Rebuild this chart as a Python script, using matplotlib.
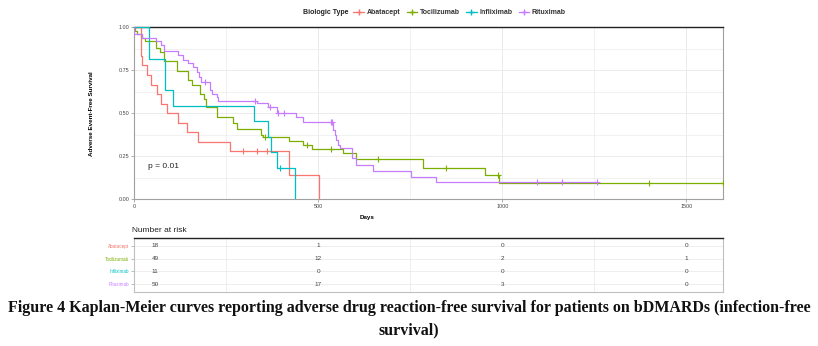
import numpy as np
import matplotlib
matplotlib.use("Agg")
import matplotlib.pyplot as plt
from matplotlib.lines import Line2D

# ---------------- data ----------------
groups = ["Abatacept", "Tocilizumab", "Infliximab", "Rituximab"]
colors = ["#F8766D", "#7CAE00", "#00BFC4", "#C77CFF"]

abat_t = [0, 19, 22, 35, 46, 62, 73, 90, 120, 143, 173, 260, 421, 502]
abat_s = [1.0, 0.833, 0.778, 0.722, 0.667, 0.611, 0.556, 0.5, 0.444, 0.389, 0.333, 0.278, 0.139, 0.0]
abat_cens = [297, 335, 362]
abat_end = 502

toci_t = [0, 3, 8, 21, 30, 61, 70, 81, 117, 147, 157, 179, 190, 195, 224, 270, 279, 345, 351,
          422, 460, 482, 568, 602, 785, 954, 991]
toci_s = [1.0, 0.98, 0.959, 0.939, 0.918, 0.878, 0.857, 0.806, 0.745, 0.694, 0.663, 0.612, 0.582,
          0.535, 0.477, 0.442, 0.407, 0.374, 0.36, 0.339, 0.316, 0.29, 0.271, 0.236, 0.18, 0.141, 0.093]
toci_cens = [356, 470, 535, 663, 848, 989, 1398, 1600]
toci_end = 1600

infl_t = [0, 42, 84, 105, 326, 365, 372, 388, 437]
infl_s = [1.0, 0.818, 0.636, 0.545, 0.455, 0.364, 0.273, 0.182, 0.0]
infl_cens = [396]
infl_end = 437

ritu_t = [0, 1, 21, 61, 73, 81, 120, 134, 147, 161, 170, 176, 182, 206, 213, 224, 229, 333,
          365, 387, 441, 460, 541, 545, 549, 554, 559, 591, 604, 650, 752, 821]
ritu_s = [1.0, 0.96, 0.94, 0.92, 0.90, 0.86, 0.84, 0.81, 0.79, 0.771, 0.742, 0.713, 0.684, 0.635,
          0.612, 0.593, 0.574, 0.562, 0.535, 0.503, 0.48, 0.451, 0.403, 0.374, 0.345, 0.316, 0.297,
          0.238, 0.2, 0.166, 0.131, 0.099]
ritu_cens = [193, 328, 369, 392, 407, 535, 538, 1093, 1163, 1257]
ritu_end = 1257

risk_times = [0, 500, 1000, 1500]
risk_abat = [18, 1, 0, 0]
risk_toci = [49, 12, 2, 1]
risk_infl = [11, 0, 0, 0]
risk_ritu = [50, 17, 3, 0]

pval_text = "p = 0.01"
caption = ("Figure 4 Kaplan-Meier curves reporting adverse drug reaction-free survival for patients on bDMARDs (infection-free\n"
           "survival)")

series = [
    (abat_t, abat_s, abat_cens, abat_end),
    (toci_t, toci_s, toci_cens, toci_end),
    (infl_t, infl_s, infl_cens, infl_end),
    (ritu_t, ritu_s, ritu_cens, ritu_end),
]
risks = [risk_abat, risk_toci, risk_infl, risk_ritu]

# ---------------- figure ----------------
plt.rcParams['font.family'] = ['Liberation Sans', 'DejaVu Sans']
W, H = 818, 346
fig = plt.figure(figsize=(W / 100, H / 100), dpi=100)

def px_axes(l, t, r, b):
    return fig.add_axes([l / W, 1 - b / H, (r - l) / W, (b - t) / H])

grid_c = "#EBEBEB"
axis_c = "#A0A0A0"

ax = px_axes(134, 27.3, 723.3, 199.3)
ax.set_xlim(0, 1600)
ax.set_ylim(0, 1)
ax.set_xticks([0, 500, 1000, 1500])
ax.set_yticks([0, 0.25, 0.5, 0.75, 1.0])
ax.set_yticklabels(["0.00", "0.25", "0.50", "0.75", "1.00"])
ax.set_xticks([250, 750, 1250], minor=True)
ax.set_yticks([0.125, 0.375, 0.625, 0.875], minor=True)
ax.grid(True, which='major', color=grid_c, lw=0.7)
ax.grid(True, which='minor', color=grid_c, lw=0.5)
ax.set_axisbelow(True)
ax.tick_params(which='minor', length=0)
ax.tick_params(which='major', length=2, width=0.6, color=axis_c, labelsize=3.9,
               labelcolor="#444444", pad=1.5)
for sp in ["left", "bottom", "right"]:
    ax.spines[sp].set_color(axis_c)
    ax.spines[sp].set_linewidth(0.8)
ax.spines["top"].set_color("#222222")
ax.spines["top"].set_linewidth(1.0)

for (t, s, cens, end), c in zip(series, colors):
    tt = np.append(np.asarray(t, float), end)
    ss = np.append(np.asarray(s, float), s[-1])
    ax.step(tt, ss, where='post', color=c, lw=0.9, zorder=3)
    idx = np.searchsorted(np.asarray(t, float), np.asarray(cens, float), side='right') - 1
    cy = np.asarray(s, float)[idx]
    ax.plot(cens, cy, ls='none', marker='+', ms=4, mew=0.8, color=c, zorder=4)

ax.text(38, 0.19, pval_text, fontsize=6, color="#222222", va='center', ha='left')
ax.set_xlabel("Days", fontsize=4.5, fontweight='bold')
ax.xaxis.set_label_coords(0.395, -0.09)
ax.set_ylabel("Adverse Event-Free Survival", fontsize=4.5, fontweight='bold')
ax.yaxis.set_label_coords(-0.068, 0.5)

# legend
fig.text(303 / W, 1 - 12.5 / H, "Biologic Type", fontsize=5, fontweight='bold',
         ha='left', va='center', color="#222222")
handles = [Line2D([], [], color=c, marker='+', ms=4, lw=0.9) for c in colors]
leg = fig.legend(handles, groups, loc='center left', bbox_to_anchor=(350 / W, 1 - 12.5 / H),
                 ncol=4, frameon=False, prop={'size': 5, 'weight': 'bold'},
                 handlelength=1.5, handletextpad=0.4, columnspacing=0.9, borderpad=0)
for txt in leg.get_texts():
    txt.set_color("#333333")

# risk table
tax = px_axes(134, 237.7, 723.3, 292.3)
tax.set_xlim(0, 1600)
tax.set_ylim(0.36, 4.64)
tax.set_xticks([250, 750, 1250])
tax.set_yticks([1, 2, 3, 4])
tax.grid(True, axis='x', color=grid_c, lw=0.6)
tax.grid(True, axis='y', color=grid_c, lw=0.6)
tax.set_axisbelow(True)
tax.tick_params(axis='x', length=0, labelbottom=False)
tax.tick_params(axis='y', length=2, width=0.5, color=axis_c, pad=1.5, labelsize=3.3)
tax.set_yticklabels(groups[::-1])
for lab, c in zip(tax.get_yticklabels(), colors[::-1]):
    lab.set_color(c)
for sp in ["left", "bottom", "right"]:
    tax.spines[sp].set_color("#C0C0C0")
    tax.spines[sp].set_linewidth(0.8)
tax.spines["top"].set_color("#222222")
tax.spines["top"].set_linewidth(1.0)

for i, r in enumerate(risks):
    yrow = 4 - i
    for tval, n in zip(risk_times, r):
        xpos = max(tval, 57)
        tax.text(xpos, yrow, str(n), fontsize=4.6, ha='center', va='center', color="#444444")

fig.text(131.5 / W, 1 - 230 / H, "Number at risk", fontsize=6, ha='left', va='center',
         color="#222222")

# caption
fig.text(0.5, 1 - 319 / H, caption, fontsize=11.5, fontweight='bold', ha='center', va='center',
         family=['Liberation Serif', 'DejaVu Serif'], linespacing=1.55, color="#111111")

fig.savefig("out.png", dpi=100)
